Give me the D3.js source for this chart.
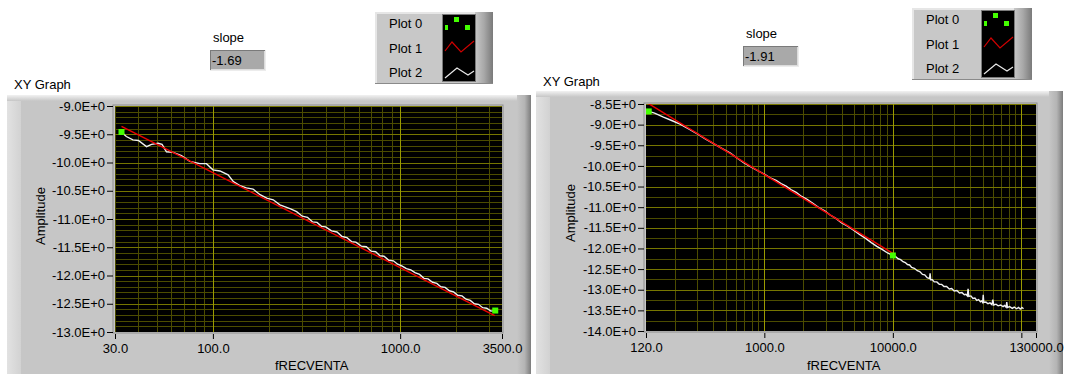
<!DOCTYPE html>
<html><head><meta charset="utf-8">
<script src="https://cdn.jsdelivr.net/npm/d3@7"></script>
<style>
body{margin:0;background:#fff;}
svg{display:block;}
text{font-family:"Liberation Sans",Arial,sans-serif;font-size:13px;fill:#000;}
</style>
</head><body>
<svg id="c" width="1065" height="374"></svg>
<script>
// ---------------- DATA ----------------
const legendNames = ["Plot 0","Plot 1","Plot 2"];

// Left graph
const leftSlope = "-1.69";
const leftXTicks = [30,100,1000,3500];
const leftXTickLabels = ["30.0","100.0","1000.0","3500.0"];
const leftYTicks = [-9.0,-9.5,-10.0,-10.5,-11.0,-11.5,-12.0,-12.5,-13.0];
const leftYTickLabels = ["-9.0E+0","-9.5E+0","-10.0E+0","-10.5E+0","-11.0E+0","-11.5E+0","-12.0E+0","-12.5E+0","-13.0E+0"];
const leftFitFreq = [32.5,3200];
const leftFitAmp = [-9.36,-12.71];
const leftEndFreq = [32.5,3221];
const leftEndAmp = [-9.46,-12.62];
const leftFreq = [32.5,34.5,37.4,40,44.2,47,51,53.5,56.5,61.3,67.9,75.3,85.1,92.4,100,109,120.6,128.7,139.3,151,163.8,178.6,193.8,210,228,
  260,280,300,320,340,360,380,400,430,460,490,520,550,580,620,660,700,740,780,820,870,920,970,1020,1080,1140,1200,1270,1340,1410,1490,1570,1650,1740,1830,1930,2030,2140,2250,2370,2490,2620,2760,2900,3050,3221];
const leftAmp = [-9.465,-9.54,-9.60,-9.61,-9.72,-9.68,-9.66,-9.68,-9.81,-9.82,-9.88,-9.98,-10.02,-10.02,-10.13,-10.15,-10.22,-10.34,-10.41,-10.45,-10.47,-10.57,-10.63,-10.66,-10.75,
  -10.82,-10.87,-10.95,-10.97,-11.05,-11.06,-11.13,-11.14,-11.21,-11.23,-11.31,-11.33,-11.40,-11.41,-11.48,-11.49,-11.57,-11.58,-11.65,-11.66,-11.73,-11.74,-11.80,-11.83,-11.88,-11.90,-11.95,-11.98,-12.05,-12.06,-12.12,-12.14,-12.20,-12.21,-12.27,-12.29,-12.35,-12.36,-12.42,-12.44,-12.50,-12.51,-12.57,-12.58,-12.63,-12.62];

// Right graph
const rightSlope = "-1.91";
const rightXTicks = [120,1000,10000,100000,130000];
const rightXTickLabels = ["120.0","1000.0","10000.0","","130000.0"];
const rightYTicks = [-8.5,-9.0,-9.5,-10.0,-10.5,-11.0,-11.5,-12.0,-12.5,-13.0,-13.5,-14.0];
const rightYTickLabels = ["-8.5E+0","-9.0E+0","-9.5E+0","-10.0E+0","-10.5E+0","-11.0E+0","-11.5E+0","-12.0E+0","-12.5E+0","-13.0E+0","-13.5E+0","-14.0E+0"];
const rightFitFreq = [124,10000];
const rightFitAmp = [-8.48,-12.12];
const rightEndFreq = [126,10000];
const rightEndAmp = [-8.68,-12.17];
const rightFreq = [126,140,164,190,221,260,299,350,403,470,544,620,691,780,880,1000,1110,1234,1350,1477,1620,1770,1950,2150,2400,2650,2950,3250,3600,4000,4450,4950,5500,6100,6800,7500,8300,9100,
  10000,10500,11000,11500,12000,12500,13000,13500,14000,14700,15500,16200,17000,17700,18500,19300,19500,19700,20300,21000,22000,23000,24000,25000,26200,27500,28700,30000,31500,33000,34500,36000,37000,38000,38500,39000,40500,42000,43500,45000,46500,48000,49000,50000,50500,51000,53000,55000,57000,59000,60000,61000,63500,66000,69000,72000,74000,76000,77000,78000,81000,85000,88000,92000,95000,98000,101000,104000];
const rightAmp = [-8.68,-8.72,-8.82,-8.90,-8.99,-9.11,-9.22,-9.35,-9.46,-9.58,-9.69,-9.82,-9.92,-10.02,-10.11,-10.20,-10.29,-10.35,-10.43,-10.49,-10.58,-10.64,-10.74,-10.81,-10.91,-11.01,-11.09,-11.19,-11.27,-11.38,-11.46,-11.56,-11.66,-11.75,-11.86,-11.95,-12.03,-12.11,
  -12.17,-12.20,-12.25,-12.27,-12.32,-12.34,-12.39,-12.40,-12.46,-12.48,-12.54,-12.56,-12.63,-12.64,-12.71,-12.73,-12.60,-12.76,-12.76,-12.81,-12.81,-12.87,-12.87,-12.92,-12.92,-12.98,-12.97,-13.03,-13.02,-13.08,-13.07,-13.12,-13.11,-13.15,-12.98,-13.16,-13.15,-13.21,-13.20,-13.26,-13.24,-13.29,-13.27,-13.31,-13.12,-13.31,-13.30,-13.34,-13.32,-13.36,-13.24,-13.37,-13.35,-13.39,-13.37,-13.41,-13.38,-13.42,-13.30,-13.43,-13.41,-13.45,-13.42,-13.46,-13.43,-13.47,-13.43,-13.46];

// ---------------- DRAW ----------------
const svg = d3.select("#c");
const defs = svg.append("defs");
function lg(id, x2, y2, stops){
  const g = defs.append("linearGradient").attr("id",id).attr("x1",0).attr("y1",0).attr("x2",x2).attr("y2",y2);
  stops.forEach(([o,c]) => g.append("stop").attr("offset",o).attr("stop-color",c));
}
lg("gTop",0,1,[[0,"#f2f2f2"],[1,"#c6c6c6"]]);
lg("gRight",1,0,[[0,"#c6c6c6"],[0.55,"#b4b4b4"],[1,"#7c7c7c"]]);
lg("gLeft",1,0,[[0,"#e2e2e2"],[1,"#d2d2d2"]]);
lg("gLegR",1,0,[[0,"#c8c8c8"],[0.5,"#a8a8a8"],[1,"#7a7a7a"]]);

function panel(o){
  const g = svg.append("g");
  const fw = o.fx1 - o.fx0;
  g.append("rect").attr("x",o.fx0).attr("y",o.fy0).attr("width",fw).attr("height",374-o.fy0).attr("fill","#c6c6c6");
  g.append("rect").attr("x",o.fx0).attr("y",o.fy0).attr("width",14).attr("height",374-o.fy0).attr("fill","url(#gLeft)");
  g.append("rect").attr("x",o.fx0).attr("y",o.fy0).attr("width",fw).attr("height",6).attr("fill","url(#gTop)");
  g.append("rect").attr("x",o.fx1-14).attr("y",o.fy0).attr("width",14).attr("height",374-o.fy0).attr("fill","url(#gRight)");

  const x = d3.scaleLog().domain(o.xDomain).range([o.px0,o.px1]);
  const y = d3.scaleLinear().domain(o.yDomain).range([o.py1,o.py0]);

  g.append("rect").attr("x",o.px0-2).attr("y",o.py0-1).attr("width",o.px1-o.px0+3).attr("height",o.py1-o.py0+2)
    .attr("fill","none").attr("stroke","#8e8e8e").attr("stroke-width",1);
  g.append("rect").attr("x",o.px0).attr("y",o.py0).attr("width",o.px1-o.px0).attr("height",o.py1-o.py0).attr("fill","#000");

  const clipId = "clip"+o.id;
  defs.append("clipPath").attr("id",clipId).append("rect")
    .attr("x",o.px0).attr("y",o.py0).attr("width",o.px1-o.px0).attr("height",o.py1-o.py0);
  const pg = g.append("g").attr("clip-path",`url(#${clipId})`);

  const isPow10 = v => Math.abs(Math.log10(v) - Math.round(Math.log10(v))) < 1e-9;
  const xMinor = x.ticks().filter(v => !isPow10(v));
  const xMajor = x.ticks().filter(v => isPow10(v));
  const yMinor = d3.range(o.yDomain[0], o.yDomain[1]+1e-9, o.yMinorStep);
  const minorC = "#4c4c00", majorC = "#767600", xMajorC = "#9a9a00";
  pg.selectAll(".xm").data(xMinor).join("line")
    .attr("x1",d=>Math.round(x(d))+0.5).attr("x2",d=>Math.round(x(d))+0.5).attr("y1",o.py0).attr("y2",o.py1)
    .attr("stroke",minorC).attr("stroke-width",1);
  pg.selectAll(".ym").data(yMinor).join("line")
    .attr("y1",d=>Math.round(y(d))+0.5).attr("y2",d=>Math.round(y(d))+0.5).attr("x1",o.px0).attr("x2",o.px1)
    .attr("stroke",minorC).attr("stroke-width",1);
  pg.selectAll(".yM").data(o.yTicks).join("line")
    .attr("y1",d=>Math.round(y(d))+0.5).attr("y2",d=>Math.round(y(d))+0.5).attr("x1",o.px0).attr("x2",o.px1)
    .attr("stroke",majorC).attr("stroke-width",1);
  pg.selectAll(".xM").data(xMajor).join("line")
    .attr("x1",d=>Math.round(x(d))+0.5).attr("x2",d=>Math.round(x(d))+0.5).attr("y1",o.py0).attr("y2",o.py1)
    .attr("stroke",xMajorC).attr("stroke-width",1);

  const line = d3.line().x(d=>x(d[0])).y(d=>y(d[1]));
  const white = o.freq.map((f,i)=>[f,o.amp[i]]);
  const fit = o.fitFreq.map((f,i)=>[f,o.fitAmp[i]]);
  const ends = o.endFreq.map((f,i)=>[f,o.endAmp[i]]);
  pg.append("path").attr("d",line(white)).attr("fill","none").attr("stroke","#f0f0f0").attr("stroke-width",1.4).attr("stroke-linejoin","miter");
  pg.append("path").attr("d",line(fit)).attr("fill","none").attr("stroke","#ee0000").attr("stroke-width",1.4);
  pg.selectAll(".pt").data(ends).join("rect")
    .attr("x",d=>x(d[0])-3).attr("y",d=>y(d[1])-3).attr("width",6).attr("height",6).attr("fill","#44ff00");

  const ya = d3.axisLeft(y).tickValues(o.yTicks).tickFormat((d,i)=>o.yLabels[i]).tickSize(6).tickPadding(2);
  const yg = g.append("g").attr("transform",`translate(${o.px0-2},0)`).call(ya);
  const xa = d3.axisBottom(x).tickValues(o.xTicks).tickFormat((d,i)=>o.xLabels[i]).tickSize(5).tickPadding(5);
  const xg = g.append("g").attr("transform",`translate(0,${o.py1+2})`).call(xa);
  [yg,xg].forEach(a=>{
    a.select(".domain").remove();
    a.selectAll("line").attr("stroke","#000");
    a.selectAll("text").attr("font-family","'Liberation Sans',Arial,sans-serif").attr("font-size",13).attr("fill","#000");
  });

  g.append("text").attr("x",o.xLabelX).attr("y",370).text("fRECVENTA");
  g.append("text").attr("transform",`translate(${o.yLabelX},${o.yLabelY}) rotate(-90)`).attr("text-anchor","middle").text("Amplitude");
  svg.append("text").attr("x",o.titleX).attr("y",o.titleY).text("XY Graph");

  svg.append("text").attr("x",o.slope.x+3).attr("y",o.slope.y-8).text("slope");
  const sb = svg.append("g");
  sb.append("rect").attr("x",o.slope.x).attr("y",o.slope.y).attr("width",56).attr("height",21).attr("fill","#ececec");
  sb.append("rect").attr("x",o.slope.x).attr("y",o.slope.y).attr("width",55).attr("height",20).attr("fill","#7a7a7a");
  sb.append("rect").attr("x",o.slope.x+1).attr("y",o.slope.y+1).attr("width",54).attr("height",19).attr("fill","#dcdcdc");
  sb.append("rect").attr("x",o.slope.x+1).attr("y",o.slope.y+1).attr("width",53).attr("height",18).attr("fill","#a9a9a9");
  sb.append("text").attr("x",o.slope.x+2).attr("y",o.slope.y+15).text(o.slopeText);

  const L = o.legend;
  const lgG = svg.append("g");
  lgG.append("rect").attr("x",L.x).attr("y",L.y).attr("width",L.w).attr("height",L.h).attr("fill","#c8c8c8");
  lgG.append("rect").attr("x",L.x).attr("y",L.y).attr("width",L.w).attr("height",2).attr("fill","#e6e6e6");
  lgG.append("rect").attr("x",L.x).attr("y",L.y).attr("width",2).attr("height",L.h).attr("fill","#e6e6e6");
  lgG.append("rect").attr("x",L.sx+32).attr("y",L.y).attr("width",L.x+L.w-(L.sx+32)).attr("height",L.h).attr("fill","url(#gLegR)");
  lgG.append("rect").attr("x",L.x).attr("y",L.y+L.h-1).attr("width",L.w).attr("height",1).attr("fill","#8a8a8a");
  lgG.append("rect").attr("x",L.sx-1).attr("y",L.y+2).attr("width",34).attr("height",L.h-4).attr("fill","#7a7a7a");
  lgG.append("rect").attr("x",L.sx).attr("y",L.y+3).attr("width",32).attr("height",L.h-6).attr("fill","#000");
  legendNames.forEach((n,i)=>{
    lgG.append("text").attr("x",L.x+14).attr("y",L.y+16+i*24.5).text(n);
  });
  const sy = L.y;
  [[2,13],[11,5],[22,13]].forEach(([dx,dy],i)=>{
    lgG.append("rect").attr("x",L.sx+dx).attr("y",sy+dy).attr("width",i===0?3:5).attr("height",5).attr("fill","#44ff00");
  });
  lgG.append("path").attr("d",d3.line()([[L.sx+2,sy+39],[L.sx+9,sy+30],[L.sx+18,sy+40],[L.sx+31,sy+29]]))
    .attr("fill","none").attr("stroke","#d00000").attr("stroke-width",1.2);
  lgG.append("path").attr("d",d3.line()([[L.sx+2,sy+66],[L.sx+14,sy+56],[L.sx+25,sy+63],[L.sx+31,sy+59]]))
    .attr("fill","none").attr("stroke","#e8e8e8").attr("stroke-width",1.2);
}

panel({
  id:"L", fx0:7, fx1:531, fy0:95,
  px0:115, px1:502, py0:106, py1:332,
  xDomain:[30,3500], yDomain:[-13,-9], yMinorStep:0.1,
  xTicks:leftXTicks, xLabels:leftXTickLabels, yTicks:leftYTicks, yLabels:leftYTickLabels,
  freq:leftFreq, amp:leftAmp, fitFreq:leftFitFreq, fitAmp:leftFitAmp, endFreq:leftEndFreq, endAmp:leftEndAmp,
  xLabelX:275, yLabelX:45, yLabelY:216, titleX:14, titleY:89,
  slope:{x:210,y:50}, slopeText:leftSlope,
  legend:{x:375,y:12,w:118,h:72,sx:443}
});
panel({
  id:"R", fx0:536, fx1:1063, fy0:91,
  px0:646, px1:1036, py0:104, py1:331,
  xDomain:[120,130000], yDomain:[-14,-8.5], yMinorStep:0.25,
  xTicks:rightXTicks, xLabels:rightXTickLabels, yTicks:rightYTicks, yLabels:rightYTickLabels,
  freq:rightFreq, amp:rightAmp, fitFreq:rightFitFreq, fitAmp:rightFitAmp, endFreq:rightEndFreq, endAmp:rightEndAmp,
  xLabelX:807, yLabelX:575, yLabelY:213, titleX:543, titleY:86,
  slope:{x:743,y:46}, slopeText:rightSlope,
  legend:{x:912,y:8,w:120,h:72,sx:982}
});
</script>
</body></html>
